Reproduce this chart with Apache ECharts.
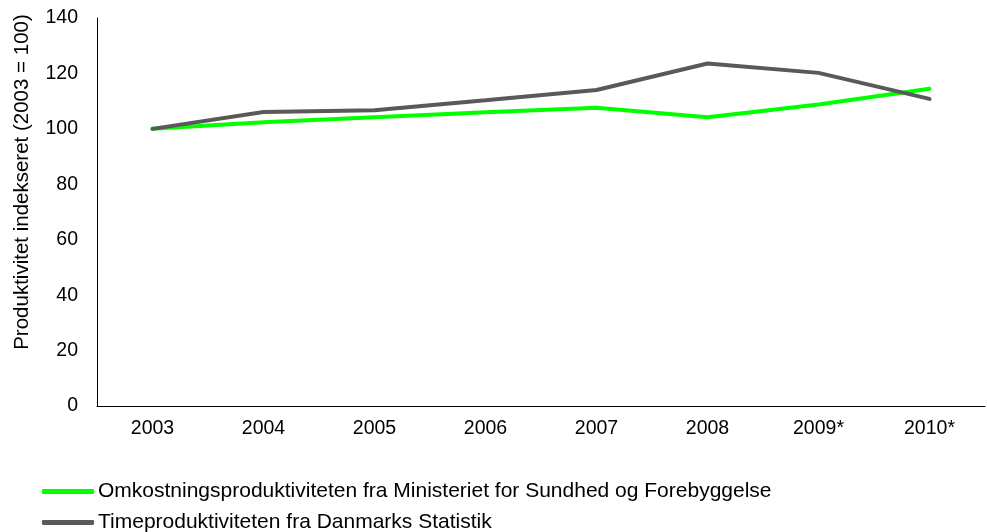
<!DOCTYPE html>
<html>
<head>
<meta charset="utf-8">
<script src="https://cdn.jsdelivr.net/npm/echarts@6/dist/echarts.min.js"></script>
<style>
  html, body { margin: 0; padding: 0; background: #fff; }
  #chart { width: 987px; height: 532px; }
</style>
</head>
<body>
<div id="chart"></div>
<script>
// kategorier (år)
const years = ['2003', '2004', '2005', '2006', '2007', '2008', '2009*', '2010*'];
// Omkostningsproduktiviteten (grøn)
const omkostning = [100, 102.4, 104.2, 106, 107.6, 104.2, 108.8, 114.5];
// Timeproduktiviteten (grå)
const timeprod = [100, 106.1, 106.7, 110.3, 114.0, 123.6, 120.2, 110.8];
const yTicks = [0, 20, 40, 60, 80, 100, 120, 140];

const seriesNames = [
  'Omkostningsproduktiviteten fra Ministeriet for Sundhed og Forebyggelse',
  'Timeproduktiviteten fra Danmarks Statistik'
];
const colors = ['#00ff00', '#595959'];

const chart = echarts.init(document.getElementById('chart'));
const font = 'Liberation Sans, Arial, sans-serif';

// en legende per række, så de står under hinanden
function legendRow(name, top) {
  return {
    left: 42,
    top: top,
    padding: 0,
    itemWidth: 52,
    itemHeight: 5,
    icon: 'roundRect',
    textStyle: { fontFamily: font, fontSize: 21, color: '#000', padding: [0, 0, 0, -1] },
    data: [name]
  };
}

const option = {
  animation: false,
  textStyle: { fontFamily: font },
  grid: { left: 97, right: 2, top: 18, bottom: 126, outerBoundsMode: 'none', containLabel: false },
  legend: [
    legendRow(seriesNames[0], 481),
    legendRow(seriesNames[1], 512)
  ],
  xAxis: {
    type: 'category',
    data: years,
    boundaryGap: true,
    axisLine: { lineStyle: { color: '#000', width: 1 } },
    axisTick: { show: false },
    axisLabel: { color: '#000', fontSize: 19.5, fontFamily: font, margin: 13 }
  },
  yAxis: {
    type: 'value',
    min: yTicks[0],
    max: yTicks[yTicks.length - 1],
    interval: 20,
    name: 'Produktivitet indekseret (2003 = 100)',
    nameLocation: 'middle',
    nameGap: 64,
    nameTextStyle: { color: '#000', fontSize: 20.5, fontFamily: font, padding: [0, 0, 0, 60] },
    axisLine: { show: true, lineStyle: { color: '#000', width: 1 } },
    axisTick: { show: false },
    splitLine: { show: false },
    axisLabel: { color: '#000', fontSize: 19.5, fontFamily: font, margin: 19 }
  },
  series: [
    {
      name: seriesNames[0],
      type: 'line',
      data: omkostning,
      symbol: 'none',
      lineStyle: { color: colors[0], width: 4, cap: 'round' },
      itemStyle: { color: colors[0] }
    },
    {
      name: seriesNames[1],
      type: 'line',
      data: timeprod,
      symbol: 'none',
      lineStyle: { color: colors[1], width: 4, cap: 'round' },
      itemStyle: { color: colors[1] }
    }
  ]
};

chart.setOption(option);
</script>
</body>
</html>
